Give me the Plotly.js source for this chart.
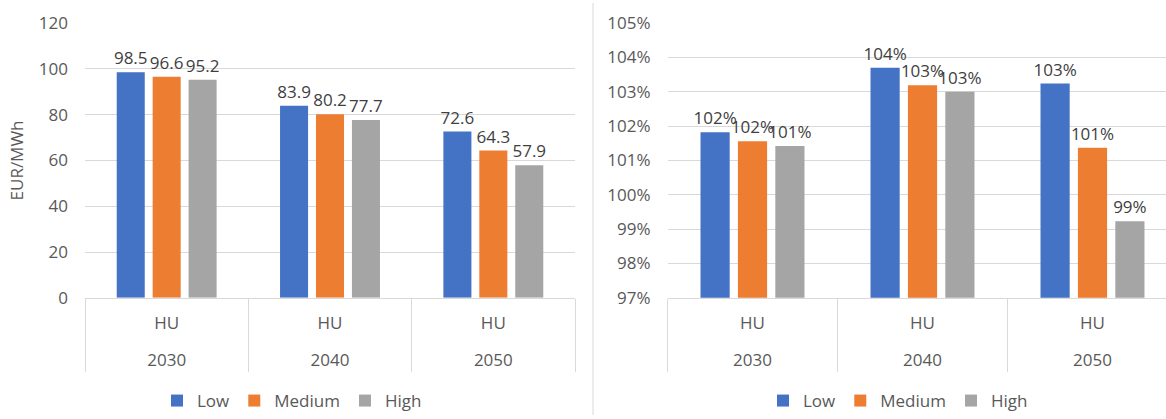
<!DOCTYPE html>
<html>
<head>
<meta charset="utf-8">
<script src="https://cdn.plot.ly/plotly-3.0.1.min.js"></script>
<style>
  html, body { margin: 0; padding: 0; background: #fff; }
  #chart { width: 1166px; height: 419px; }
</style>
</head>
<body>
<div id="chart"></div>
<script>
const years = ['2030', '2040', '2050'];
const regions = ['HU', 'HU', 'HU'];
const scenarios = ['Low', 'Medium', 'High'];
const colors = ['#4472C4', '#ED7D31', '#A5A5A5'];

// EUR/MWh
const priceLow = [98.5, 83.9, 72.6];
const priceMedium = [96.6, 80.2, 64.3];
const priceHigh = [95.2, 77.7, 57.9];

// relative values
const relLow = [1.0182, 1.0370, 1.0324];
const relMedium = [1.0156, 1.0319, 1.0137];
const relHigh = [1.0142, 1.0300, 0.9923];

const FONT = '"Open Sans", "DejaVu Sans", sans-serif';
const TXT = '#595959';
const LBL = '#404040';
const GRID = '#D9D9D9';

// inner category labels get an empty second line to space the two label rows like the original
const innerLabels = regions.map(r => r + '<br>\u00a0');

const leftSeries = [priceLow, priceMedium, priceHigh];
const rightSeries = [relLow, relMedium, relHigh];

const traces = [];
scenarios.forEach((name, i) => {
  traces.push({
    type: 'bar', name: name,
    x: [years, innerLabels], y: leftSeries[i],
    xaxis: 'x', yaxis: 'y', legend: 'legend',
    marker: { color: colors[i] },
    text: leftSeries[i].map(v => v.toFixed(1)),
    textposition: 'outside', cliponaxis: false, constraintext: 'none',
    textfont: { family: FONT, size: 17, color: LBL },
    hoverinfo: 'skip'
  });
});
scenarios.forEach((name, i) => {
  traces.push({
    type: 'bar', name: name,
    x: [years, innerLabels], y: rightSeries[i],
    xaxis: 'x2', yaxis: 'y2', legend: 'legend2',
    marker: { color: colors[i] },
    texttemplate: '%{y:.0%}',
    textposition: 'outside', cliponaxis: false, constraintext: 'none',
    textfont: { family: FONT, size: 17, color: LBL },
    hoverinfo: 'skip'
  });
});

const H = 419, W = 1166;
const yTop = 1 - 23.3 / H, yBot = 1 - 300.7 / H;
const rightStart = 667.5, catW2 = 170;

const xCommon = {
  type: 'multicategory',
  showline: true, linecolor: GRID, linewidth: 1,
  showgrid: false, zeroline: false,
  showdividers: true, dividercolor: GRID, dividerwidth: 1,
  tickfont: { family: FONT, size: 17, color: TXT },
  ticklabelstandoff: 10,
  ticks: ''
};
const yCommon = {
  showgrid: true, gridcolor: GRID, gridwidth: 1,
  zeroline: false, showline: false, ticks: '',
  ticklabelstandoff: 16,
  tickfont: { family: FONT, size: 17, color: TXT }
};

const layout = {
  width: W, height: H,
  margin: { l: 0, r: 0, t: 0, b: 0 },
  paper_bgcolor: '#fff', plot_bgcolor: '#fff',
  font: { family: FONT, color: TXT, size: 17 },
  barmode: 'group', bargap: 0.34, bargroupgap: 0.22,
  xaxis: Object.assign({}, xCommon, {
    domain: [85 / W, 575 / W], anchor: 'y'
  }),
  yaxis: Object.assign({}, yCommon, {
    domain: [yBot, yTop], anchor: 'x',
    range: [0, 120], dtick: 20,
    title: { text: 'EUR/MWh', font: { family: FONT, size: 17, color: TXT }, standoff: 10 }
  }),
  xaxis2: Object.assign({}, xCommon, {
    domain: [rightStart / W, 1], anchor: 'y2',
    range: [-0.5, -0.5 + (W - rightStart) / catW2]
  }),
  yaxis2: Object.assign({}, yCommon, {
    domain: [yBot, yTop], anchor: 'x2',
    range: [0.97, 1.05], dtick: 0.01, tickformat: '.0%'
  }),
  legend: {
    orientation: 'h', x: 292 / W, xanchor: 'center', y: (H - 405) / H, yanchor: 'middle',
    font: { family: FONT, size: 17, color: TXT }, bgcolor: 'rgba(0,0,0,0)'
  },
  legend2: {
    orientation: 'h', x: 898 / W, xanchor: 'center', y: (H - 405) / H, yanchor: 'middle',
    font: { family: FONT, size: 17, color: TXT }, bgcolor: 'rgba(0,0,0,0)'
  },
  shapes: [{
    type: 'line', xref: 'paper', yref: 'paper',
    x0: 593 / W, x1: 593 / W, y0: 0, y1: 1 - 3 / H,
    line: { color: GRID, width: 1 }
  }],
  showlegend: true
};

Plotly.newPlot('chart', traces, layout, { displayModeBar: false, staticPlot: true });
</script>
</body>
</html>
